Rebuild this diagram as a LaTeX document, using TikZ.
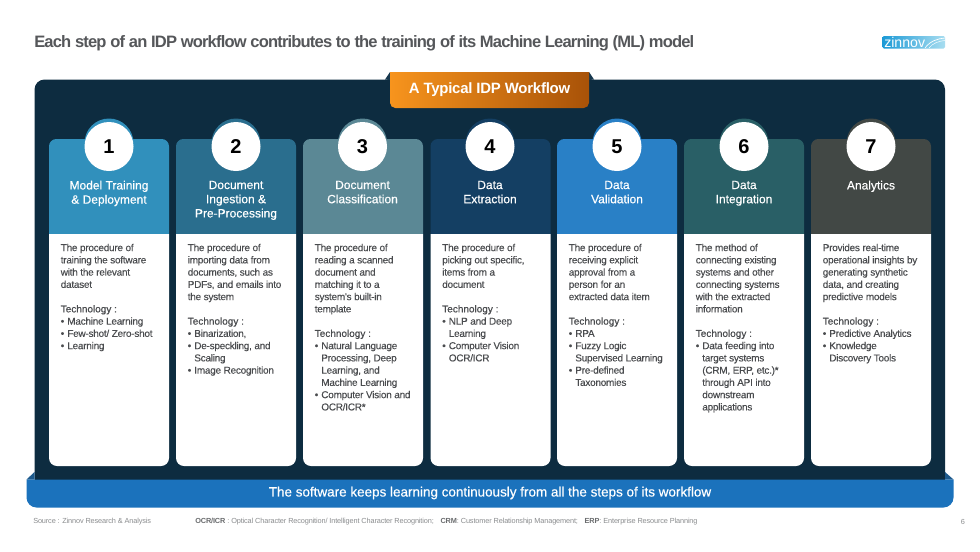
\documentclass[tikz,border=0pt]{standalone}
\usepackage{fontspec}
\setmainfont{Liberation Sans}
\newfontfamily\medfont[FakeBold=0.4]{Liberation Sans}
\newfontfamily\bodyfont[LetterSpace=-2.5,FakeBold=0.12]{Liberation Sans}
\newfontfamily\techfont[FakeBold=0.5]{Liberation Sans}
\newfontfamily\titlefont[LetterSpace=-5.0]{Liberation Sans Bold}
\newfontfamily\tabfont[LetterSpace=-1.5]{Liberation Sans Bold}
\newfontfamily\footfont[LetterSpace=-1.8]{Liberation Sans}
\newfontfamily\footbf[LetterSpace=-1.8]{Liberation Sans Bold}
\usetikzlibrary{calc}
\definecolor{panelnavy}{HTML}{0D2C40}
\definecolor{bannerblue}{HTML}{1B72BC}
\definecolor{bannerfold}{HTML}{1E5A8C}
\definecolor{titlegrey}{HTML}{55575A}
\definecolor{bodygrey}{HTML}{4A4C4F}
\definecolor{footgrey}{HTML}{8A8C8E}
\definecolor{footbold}{HTML}{6A6C6E}
\definecolor{tabfrom}{HTML}{F7941D}
\definecolor{tabto}{HTML}{A85208}
\definecolor{tabfold}{HTML}{17384E}
\definecolor{logoa}{HTML}{1C9AD6}
\definecolor{logob}{HTML}{A8DDF0}
\definecolor{cardA}{HTML}{3190BC}
\definecolor{cardB}{HTML}{2A6E8E}
\definecolor{cardC}{HTML}{5B8895}
\definecolor{cardD}{HTML}{143F63}
\definecolor{cardE}{HTML}{2980C6}
\definecolor{cardF}{HTML}{295F66}
\definecolor{cardG}{HTML}{424845}
% bullet line and its hanging continuation
\newcommand{\bl}[1]{\makebox[4.9pt][l]{•}#1}
\newcommand{\cl}[1]{\hspace*{4.9pt}#1}
\newcommand{\tech}{{\techfont Technology :}}
\tikzset{
  x=0.75pt,y=-0.75pt,
  headtext/.style={text=white,align=center,inner sep=0pt,anchor=center,
    font=\fontsize{9pt}{10.65pt}\medfont},
  bodytext/.style={text=bodygrey,align=left,inner sep=0pt,anchor=north west,
    font=\fontsize{7.5pt}{9.19pt}\bodyfont},
  numdisc/.style={circle,fill=white,minimum size=36.75pt,inner sep=0pt,
    text=black,font=\fontsize{15pt}{15pt}\bfseries},
  foot/.style={text=footgrey,inner sep=0pt,font=\fontsize{5.5pt}{7pt}\footfont},
}
\newcommand{\fb}[1]{\textcolor{footbold}{\footbf #1}}
% one workflow step: number, left edge, centre, colour, heading, body
\newcommand{\stepcard}[6]{%
  \fill[#4] (#3,143) circle[radius=24.5];
  \fill[#4] (#2,234) [rounded corners=5.5pt] -- (#2,139) -- (#2+120,139) [sharp corners] -- (#2+120,234) -- cycle;
  \fill[white] (#2,234) [rounded corners=6pt] -- (#2,466) -- (#2+120,466) [sharp corners] -- (#2+120,234) -- cycle;
  \node[numdisc] (disc#1) at (#3,146.5) {#1};
  \node[headtext,anchor=north] (head#1) at (#3,180.5) {#5};
  \node[bodytext] (body#1) at (#2+11.5,243.6) {#6};
}
\begin{document}
\begin{tikzpicture}
\useasboundingbox (0,0) rectangle (980,551);
\fill[white] (0,0) rectangle (980,551);
\node[anchor=west,inner sep=0pt,text=titlegrey,font=\fontsize{12.4pt}{14pt}\titlefont] (title) at (34,43)
  {Each step of an IDP workflow contributes to the training of its Machine Learning (ML) model};
% logo
\shade[left color=logoa,right color=logob,rounded corners=1pt] (882.5,36) rectangle (945,48.5);
\draw[white,line width=0.5pt] (925,48) .. controls (930,41) and (938,38.5) .. (945,38);
\draw[white,line width=0.35pt] (929,48) .. controls (933,43) and (939,41) .. (945,40.5);
\node[anchor=west,inner sep=0pt,text=white,font=\fontsize{10.6pt}{10pt}\selectfont] (logo) at (884,42.5) {zinnov};
% main panel and the folded corners behind the title tab
\fill[panelnavy] (34.5,480) [rounded corners=7.5pt] -- (34.5,79.5) -- (945,79.5) [sharp corners] -- (945,480) -- cycle;
\fill[tabfold] (385,79.5) -- (390,72) -- (390,80) -- cycle;
\fill[tabfold] (594,79.5) -- (589,72) -- (589,80) -- cycle;
\shade[left color=tabfrom,right color=tabto] (390,72) [sharp corners] -- (589,72) [rounded corners=4pt] -- (589,108) -- (390,108) [sharp corners] -- (390,72) -- cycle;
\node[text=white,inner sep=0pt,font=\fontsize{11.2pt}{13pt}\tabfont] (tabtext) at (489.5,89.5) {A Typical IDP Workflow};
\stepcard{1}{49}{109}{cardA}{Model Training\\\& Deployment}{The procedure of\\training the software\\with the relevant\\dataset\\[9.19pt]\tech\\\bl{Machine Learning}\\\bl{Few-shot/ Zero-shot}\\\bl{Learning}}
\stepcard{2}{176}{236}{cardB}{Document\\Ingestion \&\\Pre-Processing}{The procedure of\\importing data from\\documents, such as\\PDFs, and emails into\\the system\\[9.19pt]\tech\\\bl{Binarization,}\\\bl{De-speckling, and}\\\cl{Scaling}\\\bl{Image Recognition}}
\stepcard{3}{303}{362.5}{cardC}{Document\\Classification}{The procedure of\\reading a scanned\\document and\\matching it to a\\system's built-in\\template\\[9.19pt]\tech\\\bl{Natural Language}\\\cl{Processing, Deep}\\\cl{Learning, and}\\\cl{Machine Learning}\\\bl{Computer Vision and}\\\cl{OCR/ICR*}}
\stepcard{4}{430.5}{490}{cardD}{Data\\Extraction}{The procedure of\\picking out specific,\\items from a\\document\\[9.19pt]\tech\\\bl{NLP and Deep}\\\cl{Learning}\\\bl{Computer Vision}\\\cl{OCR/ICR}}
\stepcard{5}{557}{617}{cardE}{Data\\Validation}{The procedure of\\receiving explicit\\approval from a\\person for an\\extracted data item\\[9.19pt]\tech\\\bl{RPA}\\\bl{Fuzzy Logic}\\\cl{Supervised Learning}\\\bl{Pre-defined}\\\cl{Taxonomies}}
\stepcard{6}{684}{744}{cardF}{Data\\Integration}{The method of\\connecting existing\\systems and other\\connecting systems\\with the extracted\\information\\[9.19pt]\tech\\\bl{Data feeding into}\\\cl{target systems}\\\cl{(CRM, ERP, etc.)*}\\\cl{through API into}\\\cl{downstream}\\\cl{applications}}
\stepcard{7}{811}{871}{cardG}{Analytics}{Provides real-time\\operational insights by\\generating synthetic\\data, and creating\\predictive models\\[9.19pt]\tech\\\bl{Predictive Analytics}\\\bl{Knowledge}\\\cl{Discovery Tools}}
% bottom banner with its folded corners
\fill[bannerfold] (26.5,479.5) -- (34.5,472) -- (34.5,479.5) -- cycle;
\fill[bannerfold] (953.5,479.5) -- (945,472) -- (945,479.5) -- cycle;
\fill[bannerblue] (26.5,479.5) [rounded corners=7.5pt] -- (26.5,507.5) -- (953.5,507.5) [sharp corners] -- (953.5,479.5) -- cycle;
\node[text=white,inner sep=0pt,font=\fontsize{10.1pt}{12pt}\medfont] (banner) at (490,493) {The software keeps learning continuously from all the steps of its workflow};
% footer
\node[foot,anchor=west] (source) at (33,521.5) {Source : Zinnov Research \& Analysis};
\node[foot,anchor=west] (legend) at (195,521.5) {\fb{OCR/ICR} : Optical Character Recognition/ Intelligent Character Recognition;\hspace{5pt}\fb{CRM}: Customer Relationship Management;\hspace{5pt}\fb{ERP}: Enterprise Resource Planning};
\node[foot,anchor=center] (page) at (963,521.5) {6};
\end{tikzpicture}
\end{document}
